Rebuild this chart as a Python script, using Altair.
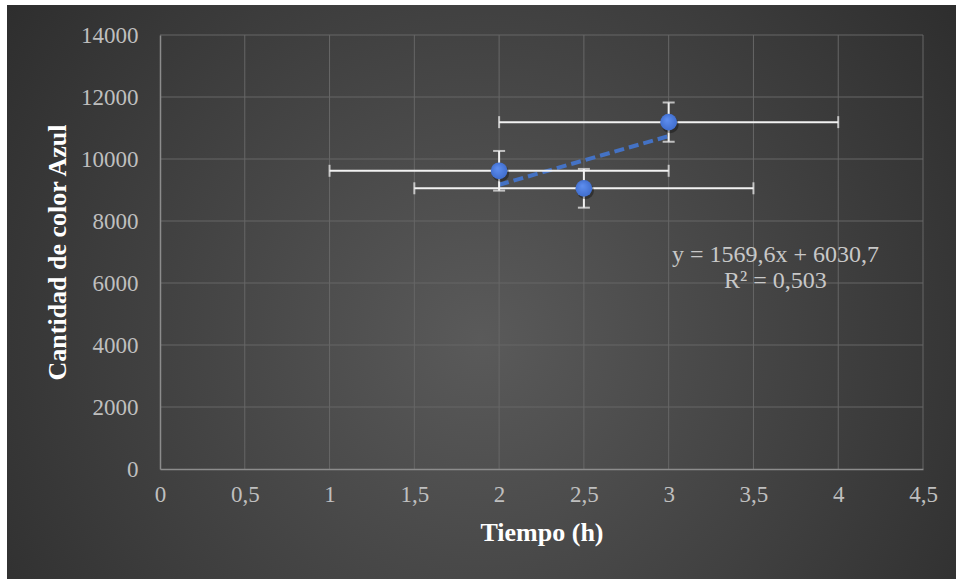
import altair as alt
import pandas as pd

# Data
tiempo = [2.0, 2.5, 3.0]
azul = [9620, 9055, 11189]
err_y = [640, 625, 630]
err_x = [1.0, 1.0, 1.0]

x_ticks = [0, 0.5, 1, 1.5, 2, 2.5, 3, 3.5, 4, 4.5]
y_ticks = [0, 2000, 4000, 6000, 8000, 10000, 12000, 14000]

eq_lines = ["y = 1569,6x + 6030,7", "R² = 0,503"]
eq_x = [3.63, 3.63]
eq_y = [6900, 6060]

FONT = "Liberation Serif"
W, H = 763, 434

df = pd.DataFrame({"x": tiempo, "y": azul, "ey": err_y, "ex": err_x})
df["ylo"] = df["y"] - df["ey"]
df["yhi"] = df["y"] + df["ey"]
df["xlo"] = df["x"] - df["ex"]
df["xhi"] = df["x"] + df["ex"]

xs = alt.Scale(domain=[0, 4.5], nice=False, zero=False)
ys = alt.Scale(domain=[0, 14000], nice=False, zero=False)

x_axis = alt.Axis(values=x_ticks, format="~g",
                  labelExpr="replace(datum.label, '.', ',')", labelFlush=False,
                  ticks=False, grid=False, domainColor="#8c8c8c", domainWidth=1.5,
                  labelColor="#bfbfbf", labelFont=FONT, labelFontSize=23,
                  labelPadding=14, titleFont=FONT, titleFontSize=26,
                  titleFontWeight="bold", titleColor="#ffffff", titlePadding=13,
                  zindex=1)
y_axis = alt.Axis(values=y_ticks, format="d", ticks=False, grid=False,
                  domainColor="#8c8c8c", domainWidth=1.5,
                  labelColor="#bfbfbf", labelFont=FONT, labelFontSize=23,
                  labelPadding=22, titleFont=FONT, titleFontSize=26,
                  titleFontWeight="bold", titleColor="#ffffff", titlePadding=10,
                  zindex=1)
XT = "Tiempo (h)"
YT = "Cantidad de color Azul"


def X(f):
    return alt.X(f, scale=xs, axis=x_axis, title=XT)


def Y(f):
    return alt.Y(f, scale=ys, axis=y_axis, title=YT)


bg_grad = alt.RadialGradient(
    gradient="radial",
    stops=[alt.GradientStop(color="#5a5a5a", offset=0),
           alt.GradientStop(color="#262626", offset=1)],
    x1=0.5, y1=0.55, r1=0, x2=0.5, y2=0.55, r2=0.72,
)
bg = alt.Chart(pd.DataFrame({"a": [0]})).mark_rect(fill=bg_grad, strokeWidth=0).encode(
    x=alt.value(7 - 160), x2=alt.value(956 - 160),
    y=alt.value(5 - 35), y2=alt.value(579 - 35),
)

gx = alt.Chart(pd.DataFrame({"v": x_ticks[1:]})).mark_rule(color="#676767", strokeWidth=1).encode(
    x=X("v:Q")
)
gy = alt.Chart(pd.DataFrame({"v": y_ticks[1:]})).mark_rule(color="#676767", strokeWidth=1).encode(
    y=Y("v:Q")
)

base = alt.Chart(df)

trend = base.transform_regression("x", "y", method="linear").mark_line(
    color="#4472c4", strokeWidth=4, strokeDash=[10, 5]
).encode(x=X("x:Q"), y=Y("y:Q"))

WH = "#f2f2f2"
hbar = base.mark_rule(color=WH, strokeWidth=2).encode(x=X("xlo:Q"), x2="xhi:Q", y=Y("y:Q"))
hcap_l = base.mark_tick(orient="vertical", color=WH, thickness=2, size=12).encode(
    x=X("xlo:Q"), y=Y("y:Q"))
hcap_r = base.mark_tick(orient="vertical", color=WH, thickness=2, size=12).encode(
    x=X("xhi:Q"), y=Y("y:Q"))
vbar = base.mark_rule(color=WH, strokeWidth=2).encode(x=X("x:Q"), y=Y("ylo:Q"), y2="yhi:Q")
vcap_b = base.mark_tick(orient="horizontal", color=WH, thickness=2, size=12).encode(
    x=X("x:Q"), y=Y("ylo:Q"))
vcap_t = base.mark_tick(orient="horizontal", color=WH, thickness=2, size=12).encode(
    x=X("x:Q"), y=Y("yhi:Q"))

shadow = base.mark_circle(color="#000000", opacity=0.35, size=290, xOffset=1.5, yOffset=2.5).encode(
    x=X("x:Q"), y=Y("y:Q"))

pt_grad = alt.RadialGradient(
    gradient="radial",
    stops=[alt.GradientStop(color="#5f8ff0", offset=0),
           alt.GradientStop(color="#3c69c8", offset=1)],
    x1=0.4, y1=0.35, r1=0, x2=0.5, y2=0.5, r2=0.6,
)
pts = base.mark_circle(fill=pt_grad, opacity=1, size=280).encode(x=X("x:Q"), y=Y("y:Q"))

eq = alt.Chart(pd.DataFrame({"t": eq_lines, "x": eq_x, "y": eq_y})).mark_text(
    font=FONT, fontSize=24, color="#c8c8c8", align="center", baseline="middle"
).encode(x=X("x:Q"), y=Y("y:Q"), text="t:N")

chart = alt.layer(
    bg, gx, gy, trend, hbar, hcap_l, hcap_r, vbar, vcap_b, vcap_t, shadow, pts, eq
).properties(
    width=W, height=H,
    padding={"left": 7, "top": 5, "right": 0, "bottom": 0},
    autosize=alt.AutoSizeParams(type="pad"),
    background="#ffffff",
).configure_view(stroke=None)

chart.save("out.html", embed_options={"renderer": "svg", "actions": False})
